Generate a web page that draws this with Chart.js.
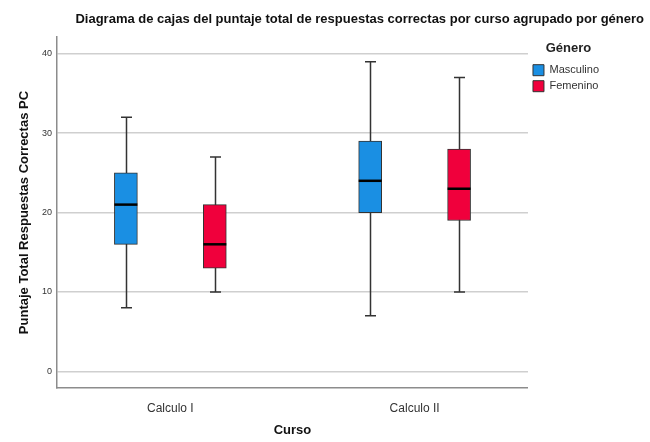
<!DOCTYPE html>
<html>
<head>
<meta charset="utf-8">
<script src="https://cdn.jsdelivr.net/npm/chart.js@4"></script>
<style>
  html, body { margin: 0; padding: 0; background: #fff; }
  #wrap { width: 650px; height: 442px; }
</style>
</head>
<body>
<div id="wrap"><canvas id="myChart" width="650" height="442"></canvas></div>
<script>
// datos
const cursos = ["Calculo I", "Calculo II"];
const generos = ["Masculino", "Femenino"];

const minMasc = [8, 7];
const q1Masc = [16, 20];
const medMasc = [21, 24];
const q3Masc = [25, 29];
const maxMasc = [32, 39];

const minFem = [10, 10];
const q1Fem = [13, 19];
const medFem = [16, 23];
const q3Fem = [21, 28];
const maxFem = [27, 37];

const yTicks = [0, 10, 20, 30, 40];

// estilos
const colores = ["#1a8fe3", "#f0003c"];
const desplazamiento = [-0.182, 0.182];
const fuente = "'Liberation Sans', Arial, sans-serif";

function serie(idx, q1, q3, mins, maxs, meds) {
    return {
        label: generos[idx],
        data: cursos.map((c, i) => ({ x: i + 1 + desplazamiento[idx], y: [q1[i], q3[i]] })),
        minimos: mins,
        maximos: maxs,
        medianas: meds,
        backgroundColor: colores[idx],
        borderColor: "#333",
        borderWidth: 1,
        borderSkipped: false,
        barThickness: 23,
        grouped: false
    };
}

// bigotes detras de la caja, mediana encima
const cajas = {
    id: "cajas",
    afterLayout(chart) {
        // el titulo llega casi al borde derecho, no hasta el area del grafico
        chart.titleBlock.right = chart.width - 6;
    },
    beforeDatasetsDraw(chart) {
        const ctx = chart.ctx;
        const y = chart.scales.y;
        ctx.save();
        ctx.strokeStyle = "#333";
        ctx.lineWidth = 1.5;
        chart.data.datasets.forEach((ds, d) => {
            chart.getDatasetMeta(d).data.forEach((bar, i) => {
                const x = Math.round(bar.x) + 0.5;
                const yMin = y.getPixelForValue(ds.minimos[i]);
                const yMax = y.getPixelForValue(ds.maximos[i]);
                ctx.beginPath();
                ctx.moveTo(x, yMin);
                ctx.lineTo(x, yMax);
                ctx.moveTo(x - 5.5, yMin);
                ctx.lineTo(x + 5.5, yMin);
                ctx.moveTo(x - 5.5, yMax);
                ctx.lineTo(x + 5.5, yMax);
                ctx.stroke();
            });
        });
        ctx.restore();
    },
    afterDatasetsDraw(chart) {
        const ctx = chart.ctx;
        const y = chart.scales.y;
        ctx.save();
        ctx.strokeStyle = "#000";
        ctx.lineWidth = 2.5;
        chart.data.datasets.forEach((ds, d) => {
            chart.getDatasetMeta(d).data.forEach((bar, i) => {
                const yMed = y.getPixelForValue(ds.medianas[i]);
                ctx.beginPath();
                ctx.moveTo(bar.x - bar.width / 2, yMed);
                ctx.lineTo(bar.x + bar.width / 2, yMed);
                ctx.stroke();
            });
        });
        ctx.restore();
    }
};

new Chart("myChart", {
    type: "bar",
    data: {
        datasets: [
            serie(0, q1Masc, q3Masc, minMasc, maxMasc, medMasc),
            serie(1, q1Fem, q3Fem, minFem, maxFem, medFem)
        ]
    },
    plugins: [cajas],
    options: {
        responsive: false,
        animation: false,
        layout: { padding: { right: 41 } },
        plugins: {
            title: {
                display: true,
                text: "Diagrama de cajas del puntaje total de respuestas correctas por curso agrupado por género",
                align: "end",
                color: "#111",
                font: { family: fuente, size: 13, weight: "bold" },
                padding: { top: 12, bottom: 9.5 }
            },
            legend: {
                position: "right",
                align: "start",
                fullSize: false,
                title: {
                    display: true,
                    text: "Género",
                    color: "#222",
                    font: { family: fuente, size: 13, weight: "bold" },
                    padding: { top: 5, bottom: 2 }
                },
                labels: {
                    boxWidth: 11,
                    boxHeight: 11,
                    padding: 5,
                    color: "#333",
                    font: { family: fuente, size: 11 }
                }
            },
            tooltip: { enabled: false }
        },
        scales: {
            x: {
                type: "linear",
                offset: false,
                min: 0.536,
                max: 2.464,
                afterBuildTicks: (s) => { s.ticks = cursos.map((c, i) => ({ value: i + 1 })); },
                afterFit: (s) => { s.height = 54; },
                grid: { display: false },
                border: { display: true, color: "#8c8c8c", width: 1.5 },
                ticks: {
                    color: "#333",
                    padding: 5,
                    font: { family: fuente, size: 12 },
                    callback: (v) => cursos[Math.round(v) - 1]
                },
                title: {
                    display: true,
                    text: "Curso",
                    color: "#111",
                    font: { family: fuente, size: 13, weight: "bold" },
                    padding: { bottom: 4 }
                }
            },
            y: {
                min: -2.1,
                max: 42.1,
                afterBuildTicks: (s) => { s.ticks = yTicks.map(v => ({ value: v })); },
                afterFit: (s) => { s.width = 57; },
                grid: { color: "#cfcfcf", lineWidth: 1.5, drawTicks: false },
                border: { display: true, color: "#8c8c8c", width: 1.5 },
                ticks: {
                    color: "#333",
                    padding: 5,
                    font: { family: fuente, size: 9 }
                },
                title: {
                    display: true,
                    text: "Puntaje Total Respuestas Correctas PC",
                    color: "#111",
                    font: { family: fuente, size: 13, weight: "bold" },
                    padding: { top: 17 }
                }
            }
        }
    }
});
</script>
</body>
</html>
